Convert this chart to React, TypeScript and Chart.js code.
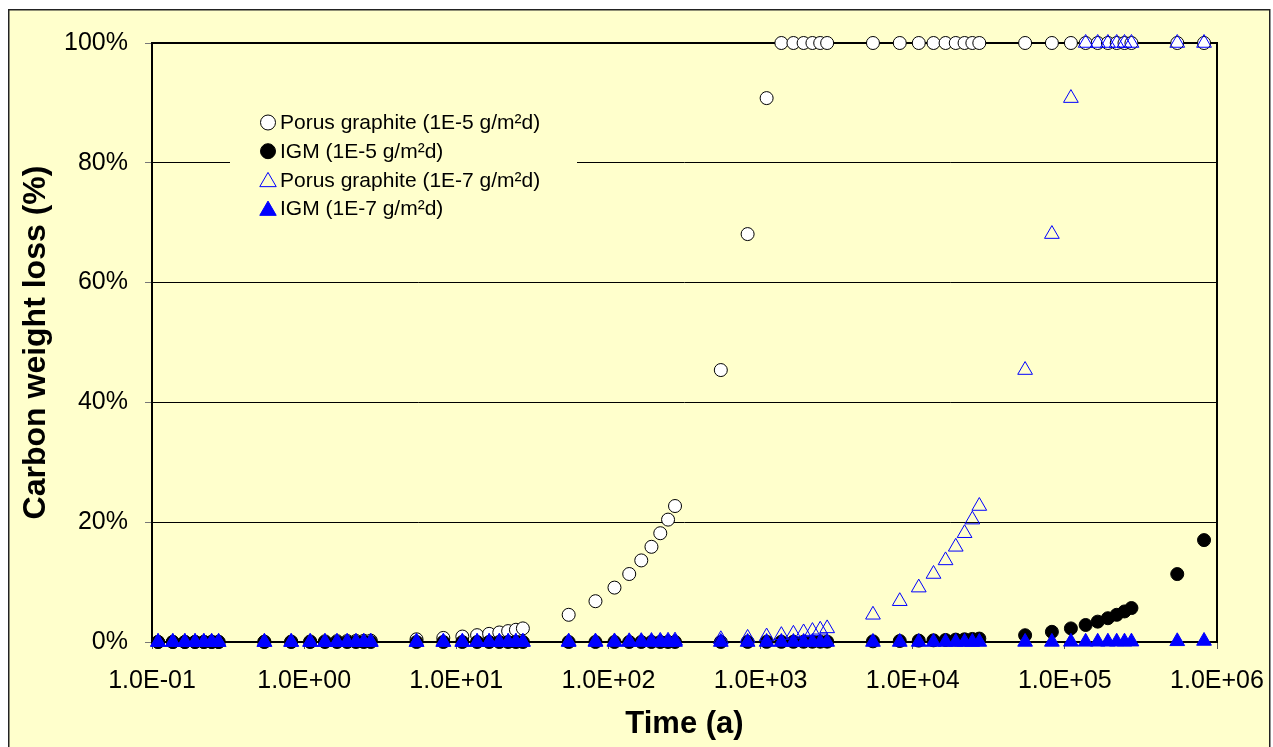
import React, { useEffect, useRef } from 'react';
import { Chart, registerables } from 'chart.js';

Chart.register(...registerables);

// Time in years (data points every n x 10^k days)
const timeYears = [
  0.1096, 0.137, 0.1644, 0.1918, 0.2192, 0.2466, 0.274,
  0.5479, 0.8219, 1.0959, 1.3699, 1.6438, 1.9178, 2.1918, 2.4658, 2.7397,
  5.479, 8.219, 10.959, 13.699, 16.438, 19.178, 21.918, 24.658, 27.397,
  54.79, 82.19, 109.59, 136.99, 164.38, 191.78, 219.18, 246.58, 273.97,
  547.9, 821.9, 1095.9, 1369.9, 1643.8, 1917.8, 2191.8, 2465.8, 2739.7,
  5479, 8219, 10959, 13699, 16438, 19178, 21918, 24658, 27397,
  54795, 82192, 109589, 136986, 164384, 191781, 219178, 246575, 273973,
  547945, 821918,
];

// Porus graphite (1E-5 g/m²d)
const porusHigh = [
  0.01, 0.01, 0.01, 0.02, 0.02, 0.02, 0.02,
  0.05, 0.07, 0.09, 0.11, 0.14, 0.16, 0.18, 0.2, 0.23,
  0.45, 0.68, 0.91, 1.14, 1.36, 1.59, 1.82, 2.04, 2.27,
  4.54, 6.81, 9.08, 11.35, 13.62, 15.89, 18.16, 20.43, 22.7,
  45.4, 68.1, 90.8, 100, 100, 100, 100, 100, 100,
  100, 100, 100, 100, 100, 100, 100, 100, 100,
  100, 100, 100, 100, 100, 100, 100, 100, 100,
  100, 100,
];

// IGM (1E-5 g/m²d)
const igmHigh = [
  0, 0, 0, 0, 0, 0, 0,
  0, 0, 0, 0, 0, 0, 0, 0, 0,
  0, 0, 0, 0, 0, 0, 0, 0, 0,
  0.001, 0.002, 0.002, 0.003, 0.003, 0.004, 0.005, 0.005, 0.006,
  0.011, 0.017, 0.023, 0.028, 0.034, 0.04, 0.045, 0.051, 0.057,
  0.11, 0.17, 0.23, 0.28, 0.34, 0.4, 0.45, 0.51, 0.57,
  1.13, 1.7, 2.27, 2.84, 3.4, 3.97, 4.54, 5.1, 5.67,
  11.34, 17.01,
];

// Porus graphite (1E-7 g/m²d)
const porusLow = [
  0, 0, 0, 0, 0, 0, 0,
  0, 0.001, 0.001, 0.001, 0.002, 0.002, 0.002, 0.002, 0.002,
  0.005, 0.007, 0.009, 0.011, 0.014, 0.016, 0.018, 0.02, 0.023,
  0.045, 0.068, 0.091, 0.114, 0.136, 0.159, 0.182, 0.204, 0.227,
  0.45, 0.68, 0.91, 1.14, 1.36, 1.59, 1.82, 2.04, 2.27,
  4.54, 6.81, 9.08, 11.35, 13.62, 15.89, 18.16, 20.43, 22.7,
  45.4, 68.1, 90.8, 100, 100, 100, 100, 100, 100,
  100, 100,
];

// IGM (1E-7 g/m²d)
const igmLow = [
  0, 0, 0, 0, 0, 0, 0,
  0, 0, 0, 0, 0, 0, 0, 0, 0,
  0, 0, 0, 0, 0, 0, 0, 0, 0,
  0, 0, 0, 0, 0, 0, 0, 0, 0,
  0, 0, 0, 0, 0, 0, 0, 0, 0.001,
  0.001, 0.002, 0.002, 0.003, 0.003, 0.004, 0.005, 0.005, 0.006,
  0.011, 0.017, 0.023, 0.028, 0.034, 0.04, 0.045, 0.051, 0.057,
  0.113, 0.17,
];

const seriesLabels = [
  'Porus graphite (1E-5 g/m²d)',
  'IGM (1E-5 g/m²d)',
  'Porus graphite (1E-7 g/m²d)',
  'IGM (1E-7 g/m²d)',
];

const xTickValues = [0.1, 1, 10, 100, 1000, 10000, 100000, 1000000];
const xTickLabels = ['1.0E-01', '1.0E+00', '1.0E+01', '1.0E+02', '1.0E+03', '1.0E+04', '1.0E+05', '1.0E+06'];
const yTickStep = 20;

const W = 1273;
const H = 747;
const FONT = '"Liberation Sans", Arial, Helvetica, sans-serif';
const BG = '#FFFFCC';

const styles = [
  { pointStyle: 'circle', radius: 6.5, bg: '#FFFFFF', border: '#000000', legendR: 7.5 },
  { pointStyle: 'circle', radius: 6.5, bg: '#000000', border: '#000000', legendR: 7.5 },
  { pointStyle: 'triangle', radius: 8.5, bg: 'rgba(0,0,0,0)', border: '#0000FF', legendR: 9.5 },
  { pointStyle: 'triangle', radius: 8.5, bg: '#0000FF', border: '#0000FF', legendR: 9.5 },
];

function drawMarker(ctx: CanvasRenderingContext2D, style: string, x: number, y: number, r: number, bg: string, border: string) {
  ctx.beginPath();
  if (style === 'circle') {
    ctx.arc(x, y, r, 0, Math.PI * 2);
  } else {
    ctx.moveTo(x, y - r);
    ctx.lineTo(x + r * Math.sin((2 * Math.PI) / 3), y - r * Math.cos((2 * Math.PI) / 3));
    ctx.lineTo(x + r * Math.sin((4 * Math.PI) / 3), y - r * Math.cos((4 * Math.PI) / 3));
    ctx.closePath();
  }
  ctx.fillStyle = bg;
  ctx.fill();
  ctx.lineWidth = 1;
  ctx.strokeStyle = border;
  ctx.stroke();
}

const framePlugin = {
  id: 'frame',
  beforeDraw(chart: any) {
    const ctx = chart.ctx as CanvasRenderingContext2D;
    ctx.save();
    ctx.fillStyle = '#FFFFFF';
    ctx.fillRect(0, 0, W, H);
    ctx.fillStyle = BG;
    ctx.fillRect(8, 9, 1262, 760);
    ctx.strokeStyle = '#222222';
    ctx.lineWidth = 1.5;
    ctx.strokeRect(8.75, 9.75, 1261, 760);
    ctx.restore();
  },
  beforeDatasetsDraw(chart: any) {
    const ctx = chart.ctx as CanvasRenderingContext2D;
    const { left, top, right, bottom } = chart.chartArea;
    ctx.save();
    // plot area border
    ctx.strokeStyle = '#000000';
    ctx.lineWidth = 2;
    ctx.strokeRect(left, top, right - left, bottom - top);
    // legend inside plot area
    ctx.fillStyle = BG;
    ctx.fillRect(230, 106, 347, 118);
    ctx.font = '21px ' + FONT;
    ctx.textBaseline = 'middle';
    ctx.textAlign = 'left';
    seriesLabels.forEach((label, i) => {
      const y = 122.5 + i * 28.7;
      const s = styles[i];
      drawMarker(ctx, s.pointStyle, 268, s.pointStyle === 'triangle' ? y + 2 : y, s.legendR, s.bg === 'rgba(0,0,0,0)' ? BG : s.bg, s.border);
      ctx.fillStyle = '#000000';
      ctx.fillText(label, 280, y + 1);
    });
    ctx.restore();
  },
};

export default function App() {
  const ref = useRef<HTMLCanvasElement | null>(null);

  useEffect(() => {
    document.body.style.margin = '0';
    const canvas = ref.current;
    if (!canvas) return;
    const seriesValues = [porusHigh, igmHigh, porusLow, igmLow];
    const orders = [3, 2, 1, 0];
    const datasets = seriesValues.map((vals, i) => ({
      label: seriesLabels[i],
      data: timeYears.map((t, j) => ({ x: t, y: vals[j] })),
      pointStyle: styles[i].pointStyle,
      pointRadius: styles[i].radius,
      pointHoverRadius: styles[i].radius,
      pointBackgroundColor: styles[i].bg,
      pointBorderColor: styles[i].border,
      pointBorderWidth: 1,
      showLine: false,
      clip: false as any,
      order: orders[i],
    }));

    const chart = new Chart(canvas, {
      type: 'scatter',
      data: { datasets } as any,
      plugins: [framePlugin as any],
      options: {
        responsive: false,
        animation: false,
        devicePixelRatio: 1,
        events: [],
        layout: { padding: { top: 43, right: 56, bottom: 0, left: 0 } },
        plugins: {
          legend: { display: false },
          tooltip: { enabled: false },
        },
        scales: {
          x: {
            type: 'logarithmic',
            position: 'bottom',
            min: 0.1,
            max: 1000000,
            afterBuildTicks: (scale: any) => {
              scale.ticks = xTickValues.map((v) => ({ value: v }));
            },
            afterFit: (scale: any) => {
              scale.height = 105;
              scale.paddingLeft = 0;
              scale.paddingRight = 0;
            },
            border: { display: false },
            grid: {
              display: true,
              drawOnChartArea: false,
              drawTicks: true,
              tickLength: 7,
              tickColor: '#555555',
              tickWidth: 1,
            },
            ticks: {
              autoSkip: false,
              maxRotation: 0,
              minRotation: 0,
              padding: 17,
              color: '#000000',
              font: { family: FONT, size: 25 },
              callback: (_v: any, idx: number) => xTickLabels[idx],
            },
            title: {
              display: true,
              text: 'Time (a)',
              color: '#000000',
              font: { family: FONT, size: 31, weight: 'bold' },
              padding: { top: 0, bottom: 4 },
            },
          },
          y: {
            type: 'linear',
            min: 0,
            max: 100,
            afterFit: (scale: any) => {
              scale.width = 152;
            },
            border: { display: false },
            grid: {
              color: '#000000',
              lineWidth: 1,
              drawTicks: true,
              tickLength: 7,
              tickColor: '#777777',
              tickWidth: 1,
            },
            ticks: {
              stepSize: yTickStep,
              padding: 17,
              color: '#000000',
              font: { family: FONT, size: 25 },
              callback: (v: any) => v + '%',
            },
            title: {
              display: true,
              text: 'Carbon weight loss (%)',
              color: '#000000',
              font: { family: FONT, size: 32, weight: 'bold' },
              padding: { top: 17, bottom: 0 },
            },
          },
        },
      } as any,
    });

    return () => {
      chart.destroy();
    };
  }, []);

  return (
    <div style={{ position: 'absolute', left: 0, top: 0, width: W, height: H }}>
      <canvas ref={ref} width={W} height={H} style={{ width: W, height: H, display: 'block' }} />
    </div>
  );
}
